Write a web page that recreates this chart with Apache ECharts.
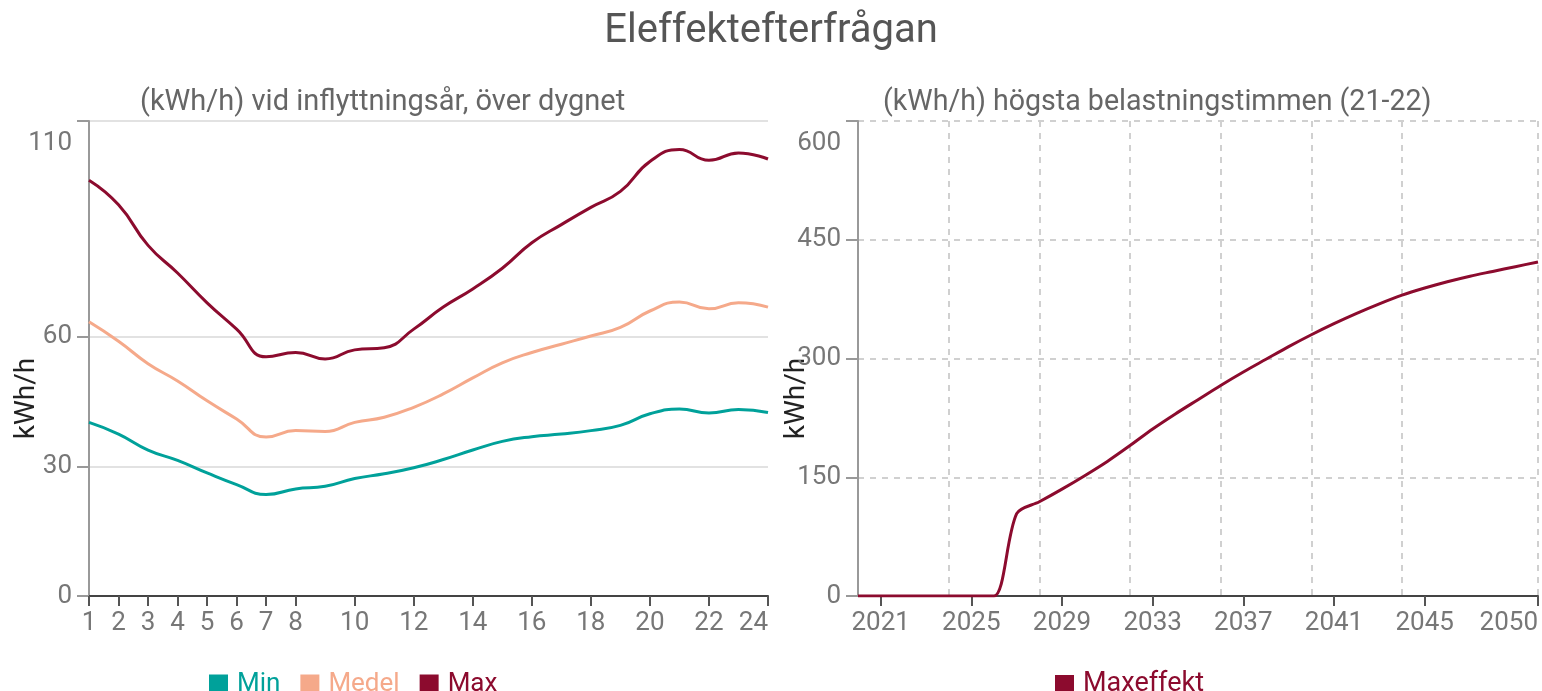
<!DOCTYPE html>
<html>
<head>
<meta charset="utf-8">
<script src="https://cdn.jsdelivr.net/npm/echarts@6/dist/echarts.min.js"></script>
<style>html,body{margin:0;padding:0;background:#fff;}#c{width:1542px;height:691px;}</style>
</head>
<body>
<div id="c"></div>
<script>
// ---- data ----
var hours = [1,2,3,4,5,6,7,8,9,10,11,12,13,14,15,16,17,18,19,20,21,22,23,24];
var minVals   = [40.2,37.5,33.8,31.4,28.5,25.8,23.5,24.8,25.4,27.2,28.3,29.7,31.6,33.8,35.8,36.9,37.5,38.3,39.5,42.2,43.3,42.4,43.2,42.5];
var medelVals = [63.5,59.0,53.8,49.8,45.2,41.0,36.8,38.3,38.1,40.2,41.4,43.7,46.8,50.5,54.0,56.4,58.3,60.2,62.2,66.0,68.1,66.5,67.9,66.9];
var maxVals   = [96.3,90.6,81.2,74.8,67.9,61.8,55.4,56.4,54.9,57.0,57.5,61.8,66.9,71.1,75.9,81.8,86.0,90.0,93.7,100.6,103.4,100.9,102.6,101.2];
var hourTicks = [1,2,3,4,5,6,7,8,10,12,14,16,18,20,22,24];
var leftYTicks = [0,30,60,110];

var years = [2020,2021,2022,2023,2024,2025,2026,2027,2028,2029,2030,2031,2032,2033,2034,2035,2036,2037,2038,2039,2040,2041,2042,2043,2044,2045,2046,2047,2048,2049,2050];
var maxeffekt = [0,0,0,0,0,0,0,104,119,135,152,170,190,211,230,248,266,283,299,315,330,344,357,369,380,389,397,404,410,416,422];
var yearTicks = [2021,2025,2029,2033,2037,2041,2045,2050];
var yearGrid = [2020,2024,2028,2032,2036,2040,2044,2050];

var C_MIN = '#00A19A', C_MEDEL = '#F5A98A', C_MAX = '#8C0B2E';
var FONT = 'Roboto';
var LBL = '#777';

function pairs(xs, ys){ return xs.map(function(x,i){ return [x, ys[i]]; }); }
function topLabel(maxV){
  return function(v){ return v === maxV ? '{t|' + v + '}' : String(v); };
}
function plain(v){ return String(v); }
var rich = { t: { fontSize: 26, fontFamily: FONT, color: LBL, padding: [44,0,0,0] } };

var chart = echarts.init(document.getElementById('c'), null, {renderer:'canvas'});
chart.setOption({
  backgroundColor: '#fff',
  animation: false,
  textStyle: { fontFamily: FONT },
  title: [
    { text: 'Eleffektefterfrågan', left: 'center', top: 7,
      textStyle: { fontSize: 40, fontWeight: 'normal', color: '#555', fontFamily: FONT } },
    { text: '(kWh/h) vid inflyttningsår, över dygnet', left: 135, top: 83,
      textStyle: { fontSize: 29, fontWeight: 'normal', color: '#666', fontFamily: FONT } },
    { text: '(kWh/h) högsta belastningstimmen (21-22)', left: 878, top: 83,
      textStyle: { fontSize: 28.6, fontWeight: 'normal', color: '#666', fontFamily: FONT } }
  ],
  legend: [
    { data: ['Min','Medel','Max'], left: 204, top: 666, icon: 'rect',
      itemWidth: 19, itemHeight: 19, itemGap: 20,
      textStyle: { fontSize: 26, fontFamily: FONT, color: 'inherit', padding: [0,0,0,4] } },
    { data: ['Maxeffekt'], left: 1050, top: 666, icon: 'rect',
      itemWidth: 19, itemHeight: 19,
      textStyle: { fontSize: 27, fontFamily: FONT, color: 'inherit', padding: [0,0,0,4] } }
  ],
  grid: [
    { left: 89, top: 121, width: 679, height: 475, containLabel: false, outerBoundsMode: 'none' },
    { left: 858, top: 121, width: 680, height: 475, containLabel: false, outerBoundsMode: 'none' }
  ],
  xAxis: [
    { type: 'value', gridIndex: 0, min: 1, max: 24,
      axisLine: { lineStyle: { color: '#444', width: 2 } },
      axisTick: { customValues: hourTicks, length: 10, lineStyle: { color: '#555', width: 2 } },
      axisLabel: { customValues: hourTicks, fontSize: 26, color: LBL, fontFamily: FONT, margin: 14,
                   formatter: plain, alignMaxLabel: 'right' },
      splitLine: { show: false } },
    { type: 'value', gridIndex: 1, min: 2020, max: 2050,
      axisLine: { lineStyle: { color: '#444', width: 2 } },
      axisTick: { customValues: yearTicks, length: 10, lineStyle: { color: '#555', width: 2 } },
      axisLabel: { customValues: yearTicks, fontSize: 26, color: LBL, fontFamily: FONT, margin: 14,
                   formatter: plain, alignMaxLabel: 'right' },
      splitLine: { show: false } },
    { type: 'value', gridIndex: 1, min: 2020, max: 2050, position: 'top',
      axisLine: { show: false },
      axisTick: { show: false, customValues: yearGrid },
      axisLabel: { show: false, customValues: yearGrid },
      splitLine: { show: true, lineStyle: { color: '#d0d0d0', width: 2, type: [6,6] } } }
  ],
  yAxis: [
    { type: 'value', gridIndex: 0, min: 0, max: 110,
      name: 'kWh/h', nameLocation: 'middle', nameGap: 48, nameRotate: 90, nameMoveOverlap: false,
      nameTextStyle: { fontSize: 28, color: '#222', fontFamily: FONT, padding: [0,80,0,0] },
      axisLine: { show: true, lineStyle: { color: '#999', width: 2 } },
      axisTick: { show: true, customValues: leftYTicks, length: 12, lineStyle: { color: '#999', width: 2 } },
      axisLabel: { customValues: leftYTicks, fontSize: 26, color: LBL, fontFamily: FONT, margin: 17,
                   formatter: topLabel(110), rich: rich },
      splitLine: { show: true, lineStyle: { color: '#e2e2e2', width: 2 } } },
    { type: 'value', gridIndex: 1, min: 0, max: 600, interval: 150,
      name: 'kWh/h', nameLocation: 'middle', nameGap: 47, nameRotate: 90, nameMoveOverlap: false,
      nameTextStyle: { fontSize: 28, color: '#222', fontFamily: FONT, padding: [0,80,0,0] },
      axisLine: { show: true, lineStyle: { color: '#999', width: 2 } },
      axisTick: { show: true, length: 12, lineStyle: { color: '#999', width: 2 } },
      axisLabel: { fontSize: 26, color: LBL, fontFamily: FONT, margin: 17,
                   formatter: topLabel(600), rich: rich },
      splitLine: { show: true, lineStyle: { color: '#d0d0d0', width: 2, type: [6,6] } } }
  ],
  series: [
    { name: 'Min', type: 'line', xAxisIndex: 0, yAxisIndex: 0, data: pairs(hours, minVals),
      smooth: true, showSymbol: false, symbol: 'none', lineStyle: { color: C_MIN, width: 3 }, itemStyle: { color: C_MIN } },
    { name: 'Medel', type: 'line', xAxisIndex: 0, yAxisIndex: 0, data: pairs(hours, medelVals),
      smooth: true, showSymbol: false, symbol: 'none', lineStyle: { color: C_MEDEL, width: 3 }, itemStyle: { color: C_MEDEL } },
    { name: 'Max', type: 'line', xAxisIndex: 0, yAxisIndex: 0, data: pairs(hours, maxVals),
      smooth: true, showSymbol: false, symbol: 'none', lineStyle: { color: C_MAX, width: 3 }, itemStyle: { color: C_MAX } },
    { name: 'Maxeffekt', type: 'line', xAxisIndex: 1, yAxisIndex: 1, data: pairs(years, maxeffekt),
      smooth: 0.3, showSymbol: false, symbol: 'none', lineStyle: { color: C_MAX, width: 3 }, itemStyle: { color: C_MAX } }
  ]
});
</script>
</body>
</html>
